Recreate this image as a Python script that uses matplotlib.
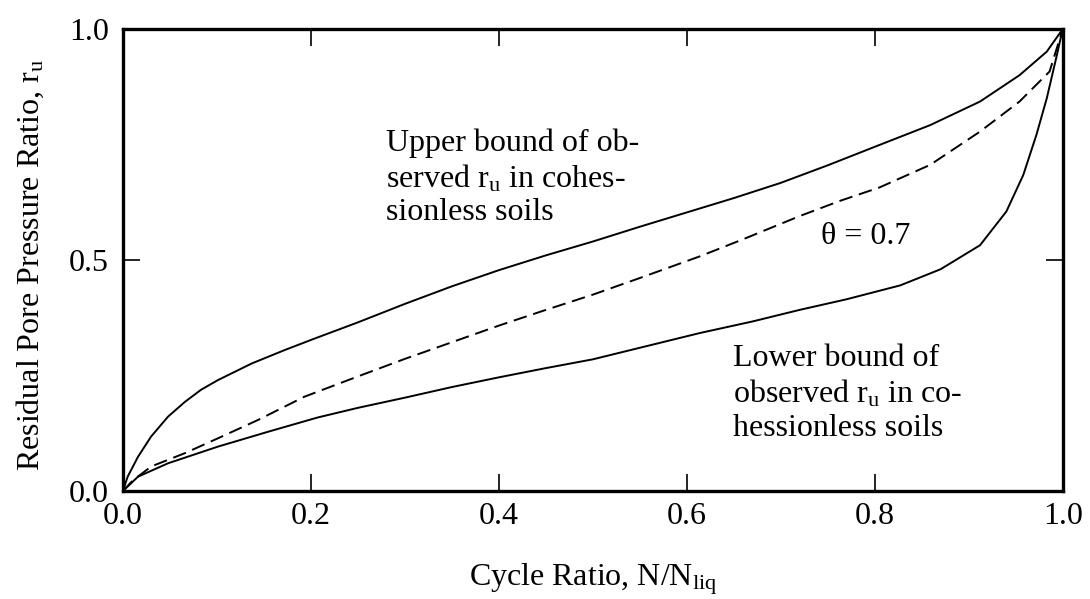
import matplotlib
matplotlib.use("Agg")
import matplotlib.pyplot as plt

plt.rcParams['font.family'] = ['Liberation Serif', 'DejaVu Serif']
plt.rcParams['mathtext.fontset'] = 'custom'
plt.rcParams['mathtext.rm'] = 'Liberation Serif'
plt.rcParams['mathtext.it'] = 'Liberation Serif'

# Upper bound curve
upper_x = [0, 0.005, 0.016, 0.030, 0.048, 0.066, 0.083, 0.101, 0.137, 0.172, 0.204, 0.25, 0.30, 0.35,
           0.40, 0.45, 0.50, 0.55, 0.60, 0.65, 0.70, 0.75, 0.805, 0.859, 0.912, 0.954, 0.983, 1.0]
upper_y = [0, 0.031, 0.074, 0.118, 0.161, 0.193, 0.219, 0.240, 0.276, 0.305, 0.330, 0.365, 0.405, 0.443,
           0.478, 0.510, 0.540, 0.572, 0.603, 0.634, 0.667, 0.705, 0.749, 0.792, 0.843, 0.900, 0.951, 1.0]

# Lower bound curve
lower_x = [0, 0.016, 0.048, 0.101, 0.154, 0.207, 0.25, 0.30, 0.35, 0.40, 0.45, 0.50, 0.55, 0.614,
           0.67, 0.72, 0.77, 0.827, 0.870, 0.912, 0.940, 0.958, 0.972, 0.983, 0.993, 1.0]
lower_y = [0, 0.031, 0.060, 0.096, 0.128, 0.159, 0.180, 0.202, 0.225, 0.246, 0.266, 0.285, 0.310, 0.342,
           0.367, 0.392, 0.415, 0.445, 0.480, 0.532, 0.605, 0.684, 0.771, 0.850, 0.937, 1.0]

# theta = 0.7 curve (dashed)
theta_x = [0, 0.010, 0.030, 0.066, 0.101, 0.144, 0.193, 0.25, 0.30, 0.35, 0.40, 0.45, 0.50, 0.55,
           0.614, 0.66, 0.72, 0.763, 0.805, 0.859, 0.912, 0.954, 0.986, 1.0]
theta_y = [0, 0.022, 0.053, 0.082, 0.114, 0.154, 0.204, 0.248, 0.286, 0.322, 0.358, 0.392, 0.425, 0.461,
           0.508, 0.545, 0.595, 0.628, 0.657, 0.706, 0.778, 0.843, 0.908, 1.0]

x_ticks = [0.0, 0.2, 0.4, 0.6, 0.8, 1.0]
x_tick_labels = ['0.0', '0.2', '0.4', '0.6', '0.8', '1.0']
y_ticks = [0.0, 0.5, 1.0]
y_tick_labels = ['0.0', '0.5', '1.0']

fig = plt.figure(figsize=(10.9, 5.99), dpi=100)
ax = fig.add_axes([0.1128, 0.1803, 0.8622, 0.7713])

ax.plot(upper_x, upper_y, color='black', lw=1.4)
ax.plot(lower_x, lower_y, color='black', lw=1.4)
ax.plot(theta_x, theta_y, color='black', lw=1.4, linestyle=(0, (7, 3.5)))

ax.set_xlim(0, 1)
ax.set_ylim(0, 1)
ax.set_xticks(x_ticks)
ax.set_xticklabels(x_tick_labels)
ax.set_yticks(y_ticks)
ax.set_yticklabels(y_tick_labels)
ax.tick_params(direction='in', length=12, width=1.2, top=True, right=True,
               labelsize=23, colors='black')
ax.tick_params(axis='x', pad=8)
ax.tick_params(axis='y', pad=10)
for s in ax.spines.values():
    s.set_linewidth(2.4)

ax.set_xlabel(r'Cycle Ratio, N/N$_{\mathrm{liq}}$', fontsize=23)
ax.set_ylabel(r'Residual Pore Pressure Ratio, r$_{\mathrm{u}}$', fontsize=23)
ax.xaxis.set_label_coords(0.5, -0.19)
ax.xaxis.label.set_va('center')
ax.yaxis.set_label_coords(-0.099, 0.49)
ax.yaxis.label.set_va('center')

ax.text(0.280, 0.678, 'Upper bound of ob-\nserved r$_{\\mathrm{u}}$ in cohes-\nsionless soils',
        fontsize=23, va='center', ha='left', linespacing=1.2)
ax.text(0.649, 0.211, 'Lower bound of\nobserved r$_{\\mathrm{u}}$ in co-\nhessionless soils',
        fontsize=23, va='center', ha='left', linespacing=1.2)
ax.text(0.79, 0.550, 'θ = 0.7', fontsize=23, va='center', ha='center')

fig.savefig('out.png', dpi=100)
